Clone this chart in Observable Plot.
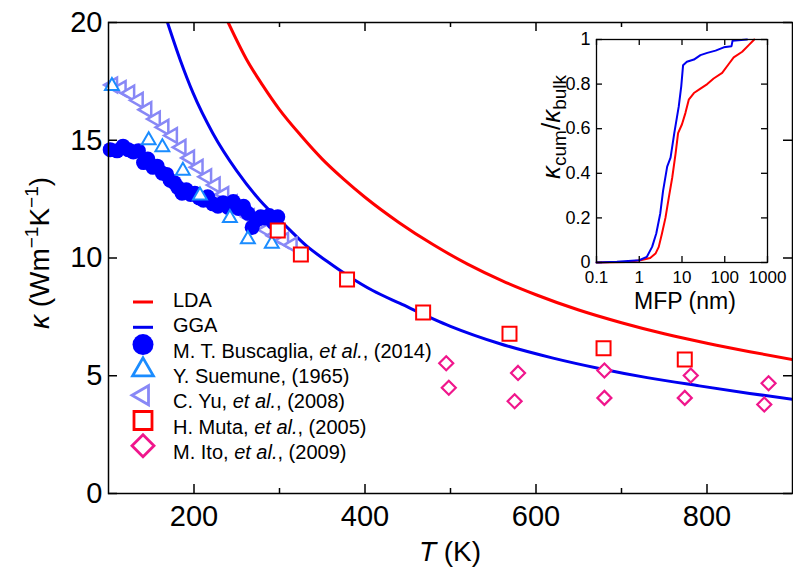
<!DOCTYPE html>
<html><head><meta charset="utf-8">
<script src="https://cdn.jsdelivr.net/npm/d3@7"></script>
<script src="https://cdn.jsdelivr.net/npm/@observablehq/plot@0.6"></script>
<style>
body{margin:0;background:#fff;}
#wrap{position:relative;width:793px;height:576px;overflow:hidden;}
#inset{position:absolute;left:520px;top:20px;}
</style></head><body><div id="wrap"><div id="main"></div><div id="inset"></div></div>
<script>
// ---- main chart data ----
const ldaT = [240, 262, 280, 300, 325, 350, 375, 400, 440, 480, 520, 560, 600, 650, 700, 750, 800, 850, 900];
const ldaK = [20.0, 18.4, 17.35, 16.3, 15.2, 14.2, 13.35, 12.58, 11.5, 10.56, 9.74, 9.04, 8.44, 7.79, 7.25, 6.78, 6.38, 6.02, 5.69];
const ggaT = [169, 184, 199, 222, 250, 277, 309, 332, 356, 380, 409, 441, 500, 557, 620, 674, 730, 791, 850, 900];
const ggaK = [20, 18.4, 17.0, 15.3, 13.7, 12.45, 11.3, 10.5, 9.85, 9.25, 8.62, 8.07, 7.1, 6.37, 5.75, 5.31, 4.92, 4.57, 4.25, 4.0];
const buscagliaT = [102,110,117,123,129,135,141,146,152,157,163,168,172,177,181,186,191,196,201,206,211,216,222,228,234,240,246,252,258,263,268,273,278,283,288,293,298];
const buscagliaK = [14.6,14.55,14.75,14.6,14.5,14.55,14.05,14.2,13.85,13.9,13.6,13.55,13.3,13.2,13.0,12.75,12.9,12.7,12.75,12.55,12.45,12.6,12.3,12.2,12.35,12.15,12.4,12.1,12.2,11.9,11.3,11.6,11.75,11.7,11.8,11.5,11.75];
const suemuneT = [104, 147, 163, 187, 207, 242, 263, 291];
const suemuneK = [17.3, 15.0, 14.7, 13.7, 12.65, 11.7, 10.8, 10.6];
const yuT = [105,115,125,135,145,155,165,175,185,195,205,215,225,235,245,255,265,275,285,295,305,315];
const yuK = [17.35,17.2,17.0,16.7,16.3,15.9,15.55,15.2,14.7,14.25,13.85,13.45,13.1,12.7,12.35,12.05,11.75,11.45,11.2,10.95,10.75,10.55];
const mutaT = [298, 325, 379, 468, 569, 679, 774];
const mutaK = [11.17, 10.15, 9.09, 7.69, 6.78, 6.17, 5.69];
const itoT = [495, 498, 579, 575, 680, 680, 781, 774, 872, 867];
const itoK = [5.53, 4.49, 5.12, 3.92, 5.22, 4.06, 5.01, 4.06, 4.68, 3.78];
const xTicks = [200, 400, 600, 800];
const xMinorTicks = [300, 500, 700];
const yTicks = [0, 5, 10, 15, 20];
const legendLabels = ["LDA", "GGA", "M. T. Buscaglia, et al., (2014)", "Y. Suemune, (1965)", "C. Yu, et al., (2008)", "H. Muta, et al., (2005)", "M. Ito, et al., (2009)"];

// ---- inset data ----
const ggaMFP = [0.1, 0.3, 1, 1.5, 2.0, 2.5, 3.1, 3.6, 4.5, 5.4, 6.6, 8.4, 9.6, 10.6, 13, 19, 27, 39, 61, 95, 144, 152, 333];
const ggaCum = [0, 0.003, 0.01, 0.025, 0.07, 0.13, 0.22, 0.32, 0.43, 0.47, 0.58, 0.70, 0.79, 0.885, 0.90, 0.91, 0.93, 0.94, 0.95, 0.965, 0.97, 0.994, 1.0];
const ldaMFP = [0.1, 0.5, 1.07, 1.8, 2.4, 2.86, 3.4, 4.1, 4.9, 5.9, 7.1, 8.1, 10, 12, 14.4, 19, 27, 39, 55, 87, 124, 162, 256, 364, 490];
const ldaCum = [0, 0.002, 0.01, 0.02, 0.04, 0.07, 0.13, 0.2, 0.29, 0.38, 0.49, 0.58, 0.62, 0.67, 0.73, 0.76, 0.78, 0.80, 0.825, 0.85, 0.89, 0.92, 0.945, 0.975, 1.0];
const insetXTicks = [0.1, 1, 10, 100, 1000];
const insetYTicks = [0, 0.2, 0.4, 0.6, 0.8, 1];

// ---- styles ----
const font = '"Liberation Sans", Arial, Helvetica, sans-serif';
const cLDA = "#ff0000", cGGA = "#0000f0", cBus = "#0000ff", cSue = "#1a8cff", cYu = "#8888f6", cMuta = "#ff0000", cIto = "#f0168c";

// custom symbols (size = pi r^2)
const rOf = s => Math.sqrt(s / Math.PI);
const triLeft = {draw(ctx, s){const r=rOf(s); ctx.moveTo(-r,0); ctx.lineTo(0.5*r,-0.866*r); ctx.lineTo(0.5*r,0.866*r); ctx.closePath();}};
const triUp = {draw(ctx, s){const r=rOf(s); ctx.moveTo(0,-r); ctx.lineTo(0.866*r,0.5*r); ctx.lineTo(-0.866*r,0.5*r); ctx.closePath();}};
const diamond = {draw(ctx, s){const r=rOf(s); ctx.moveTo(0,-r); ctx.lineTo(r,0); ctx.lineTo(0,r); ctx.lineTo(-r,0); ctx.closePath();}};
const square = {draw(ctx, s){const r=rOf(s); ctx.rect(-r,-r,2*r,2*r);}};
const circle = {draw(ctx, s){const r=rOf(s); ctx.moveTo(r,0); ctx.arc(0,0,r,0,2*Math.PI);}};

const W = 793, H = 576, mL = 108, mR = 1, mT = 22, mB = 83;
const fH = H - mT - mB, fW = W - mL - mR;

const main = Plot.plot({
  width: W, height: H, marginLeft: mL, marginRight: mR, marginTop: mT, marginBottom: mB,
  style: {fontFamily: font, background: "white", overflow: "visible", color: "black"},
  x: {domain: [100, 900]},
  y: {domain: [0, 20]},
  marks: [
    Plot.line(ldaK, {x: ldaT, y: ldaK, stroke: cLDA, strokeWidth: 3, curve: "monotone-x", clip: true}),
    Plot.line(ggaK, {x: ggaT, y: ggaK, stroke: cGGA, strokeWidth: 3, curve: "monotone-x", clip: true}),
    Plot.dot(yuK, {x: yuT, y: yuK, symbol: triLeft, r: 8.5, stroke: cYu, strokeWidth: 2.5, fill: "white"}),
    Plot.dot(buscagliaK, {x: buscagliaT, y: buscagliaK, symbol: circle, r: 7.5, fill: cBus, stroke: "none"}),
    Plot.dot(suemuneK, {x: suemuneT, y: suemuneK, symbol: triUp, r: 8, stroke: cSue, strokeWidth: 2, fill: "white"}),
    Plot.dot(mutaK, {x: mutaT, y: mutaK, symbol: square, r: 7, stroke: cMuta, strokeWidth: 2, fill: "white"}),
    Plot.dot(itoK, {x: itoT, y: itoK, symbol: diamond, r: 7, stroke: cIto, strokeWidth: 2.2, fill: "white"}),
    Plot.frame({stroke: "black", strokeWidth: 1.5}),
    Plot.tickX(xTicks, {x: d => d, insetTop: fH - 9, stroke: "black", strokeWidth: 1.5}),
    Plot.tickX(xTicks, {x: d => d, insetBottom: fH - 9, stroke: "black", strokeWidth: 1.5}),
    Plot.tickX(xMinorTicks, {x: d => d, insetTop: fH - 5, stroke: "black", strokeWidth: 1.5}),
    Plot.tickX(xMinorTicks, {x: d => d, insetBottom: fH - 5, stroke: "black", strokeWidth: 1.5}),
    Plot.tickY(yTicks, {y: d => d, insetRight: fW - 9, stroke: "black", strokeWidth: 1.5}),
    Plot.tickY(yTicks, {y: d => d, insetLeft: fW - 9, stroke: "black", strokeWidth: 1.5}),
    Plot.axisX({ticks: xTicks, tickSize: 0, tickPadding: 12, fontSize: 29, label: null}),
    Plot.axisY({ticks: yTicks, tickSize: 0, tickPadding: 6, fontSize: 29, label: null})
  ]
});
document.getElementById("main").appendChild(main);

const svg = d3.select(main);
// axis titles
const xt = svg.append("text").attr("x", 450).attr("y", 561).attr("text-anchor", "middle")
  .attr("font-family", font).attr("font-size", 28).attr("fill", "black");
xt.append("tspan").attr("font-style", "italic").text("T");
xt.append("tspan").text(" (K)");

const yt = svg.append("text").attr("transform", "translate(49,253) rotate(-90)").attr("text-anchor", "middle")
  .attr("font-family", font).attr("font-size", 28).attr("fill", "black");
yt.append("tspan").attr("font-style", "italic").text("κ");
yt.append("tspan").text(" (Wm");
yt.append("tspan").attr("font-size", 19).attr("dy", -11).text("−1");
yt.append("tspan").attr("dy", 11).text("K");
yt.append("tspan").attr("font-size", 19).attr("dy", -11).text("−1");
yt.append("tspan").attr("dy", 11).text(")");

// legend
const legSyms = [null, null, circle, triUp, triLeft, square, diamond];
const legColors = [cLDA, cGGA, cBus, cSue, cYu, cMuta, cIto];
const legR = [0, 0, 10.5, 12, 11, 9, 11];
const leg = svg.append("g").attr("font-family", font).attr("font-size", 20).attr("fill", "black").attr("text-anchor", "start");
legendLabels.forEach((lab, i) => {
  const cy = 300 + i * 25.3;
  if (i < 2) {
    leg.append("line").attr("x1", 133).attr("x2", 153).attr("y1", cy + 2).attr("y2", cy + 2)
      .attr("stroke", legColors[i]).attr("stroke-width", 3);
  } else {
    const filled = i === 2;
    leg.append("path").attr("transform", `translate(143,${cy - 6})`)
      .attr("d", d3.symbol(legSyms[i], Math.PI * legR[i] * legR[i])())
      .attr("fill", filled ? legColors[i] : "white")
      .attr("stroke", filled ? "none" : legColors[i]).attr("stroke-width", 2.8);
  }
  const t = leg.append("text").attr("x", 173).attr("y", cy + 7).attr("text-anchor", "start");
  const parts = lab.split("et al.");
  if (parts.length === 2) {
    t.append("tspan").text(parts[0]);
    t.append("tspan").attr("font-style", "italic").text("et al.");
    t.append("tspan").text(parts[1]);
  } else t.text(lab);
});

// ---- inset ----
const iW = 273, iH = 300, imL = 76, imR = 26, imT = 19, imB = 58;
const ifH = iH - imT - imB, ifW = iW - imL - imR;
const inset = Plot.plot({
  width: iW, height: iH, marginLeft: imL, marginRight: imR, marginTop: imT, marginBottom: imB,
  style: {fontFamily: font, background: "transparent", overflow: "visible", color: "black"},
  x: {type: "log", domain: [0.1, 1000]},
  y: {domain: [0, 1]},
  marks: [
    Plot.frame({fill: "white", stroke: "none"}),
    Plot.line(ldaCum, {x: ldaMFP, y: ldaCum, stroke: cLDA, strokeWidth: 2}),
    Plot.line(ggaCum, {x: ggaMFP, y: ggaCum, stroke: cGGA, strokeWidth: 2}),
    Plot.frame({stroke: "black", strokeWidth: 1.3}),
    Plot.tickX(insetXTicks, {x: d => d, insetTop: ifH - 6, stroke: "black", strokeWidth: 1.3}),
    Plot.tickX(insetXTicks, {x: d => d, insetBottom: ifH - 6, stroke: "black", strokeWidth: 1.3}),
    Plot.tickY(insetYTicks, {y: d => d, insetRight: ifW - 6, stroke: "black", strokeWidth: 1.3}),
    Plot.tickY(insetYTicks, {y: d => d, insetLeft: ifW - 6, stroke: "black", strokeWidth: 1.3}),
    Plot.axisX({ticks: insetXTicks, tickFormat: d => String(d), tickSize: 0, tickPadding: 8, fontSize: 17, label: null}),
    Plot.axisY({ticks: insetYTicks, tickFormat: d => String(d), tickSize: 0, tickPadding: 6, fontSize: 18, label: null})
  ]
});
document.getElementById("inset").appendChild(inset);
const isvg = d3.select(inset);
isvg.append("text").attr("x", 165).attr("y", 289).attr("text-anchor", "middle")
  .attr("font-family", font).attr("font-size", 23).attr("fill", "black").text("MFP (nm)");
const iy = isvg.append("text").attr("transform", "translate(40,107) rotate(-90)").attr("text-anchor", "middle")
  .attr("font-family", font).attr("font-size", 26).attr("fill", "black");
iy.append("tspan").attr("font-style", "italic").text("κ");
iy.append("tspan").attr("font-size", 19).attr("dy", 6).text("cum");
iy.append("tspan").attr("dy", -6).text("/");
iy.append("tspan").attr("font-style", "italic").text("κ");
iy.append("tspan").attr("font-size", 19).attr("dy", 6).text("bulk");
</script>
</body></html>
